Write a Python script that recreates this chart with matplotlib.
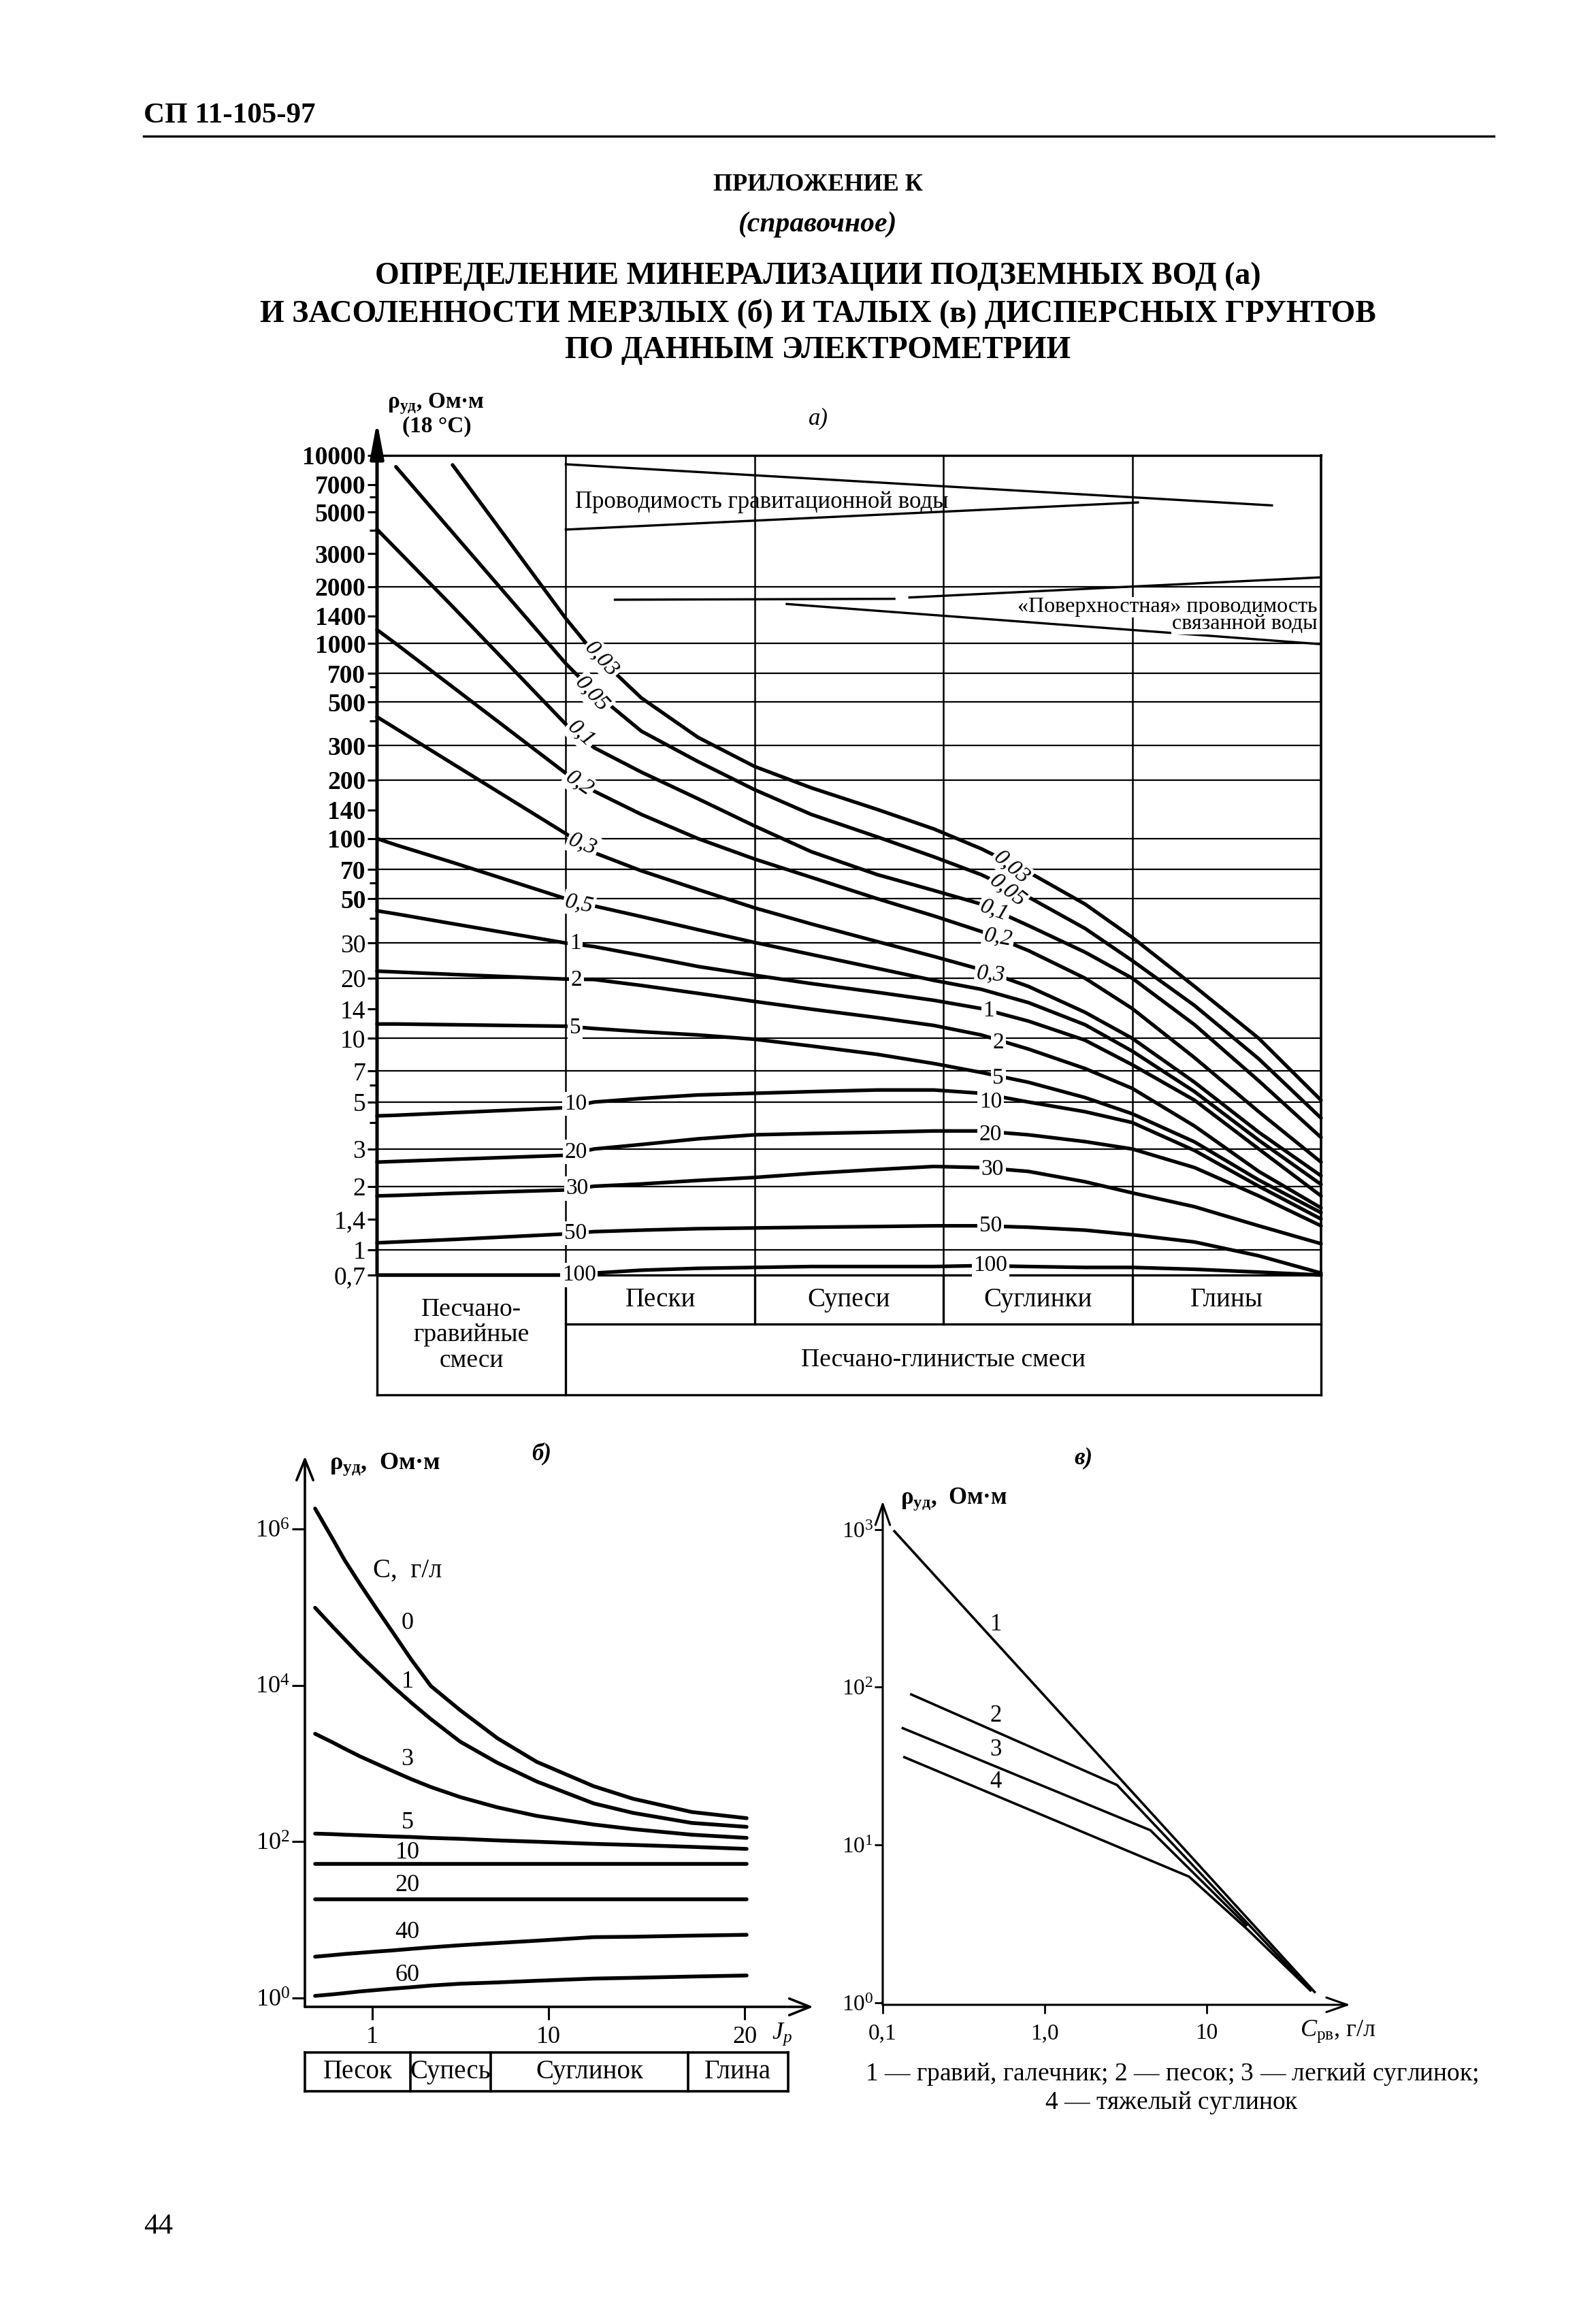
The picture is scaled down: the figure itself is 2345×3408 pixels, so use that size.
import numpy as np
import matplotlib.pyplot as plt
from matplotlib.lines import Line2D
from matplotlib.ticker import FixedLocator, NullFormatter, NullLocator

plt.rcParams['font.family'] = 'Liberation Serif'
plt.rcParams['mathtext.fontset'] = 'custom'
plt.rcParams['mathtext.rm'] = 'Liberation Serif'
plt.rcParams['mathtext.it'] = 'Liberation Serif:italic'
plt.rcParams['mathtext.bf'] = 'Liberation Serif:bold'
plt.rcParams['mathtext.default'] = 'regular'

nan = np.nan

# ---------- chart a) : resistivity vs soil type ----------
a_ticks = [10000, 7000, 5000, 3000, 2000, 1400, 1000, 700, 500, 300, 200, 140,
           100, 70, 50, 30, 20, 14, 10, 7, 5, 3, 2, 1.4, 1, 0.7]
a_ticklabels = ['10000', '7000', '5000', '3000', '2000', '1400', '1000', '700',
                '500', '300', '200', '140', '100', '70', '50', '30', '20', '14',
                '10', '7', '5', '3', '2', '1,4', '1', '0,7']
a_minor = [6000, 4000, 600, 400, 60, 40, 6, 4]
a_grid = [2000, 1000, 700, 500, 300, 200, 100, 70, 50, 30, 20, 10, 7, 5, 3, 2, 1]
soils_a = ['Пески', 'Супеси', 'Суглинки', 'Глины']
# the printed log axis is not uniform: relative height of each decade mark
a_dec_log = [-3, -0.155, 0, 1, 2, 3, 4, 7]
a_dec_h = [-381, 0, 17, 160, 295, 427, 554, 935]

# x in soil-column units (0-1 sand-gravel, 1..5 sand .. clay)
a_x = [0.0, 0.1, 0.4, 1.0, 1.15, 1.4, 1.7, 2.0, 2.3, 2.65, 2.95, 3.2, 3.45, 3.75,
       4.0, 4.33, 4.67, 5.0]
c_labels = ['0,03', '0,05', '0,1', '0,2', '0,3', '0,5', '1', '2', '5',
            '10', '20', '30', '50', '100']
rho_003 = [nan, nan, 8900, 1355, 890, 525, 330, 234, 182, 141, 112, 89, 68, 47,
           32, 18.2, 10, 5.1]
rho_005 = [nan, 8700, 3890, 787, 562, 355, 248, 178, 133, 102, 81, 66, 51, 35.5,
           24.5, 14.6, 8.0, 4.2]
rho_01 = [4040, 3190, 1570, 385, 292, 219, 160, 116, 86, 66, 55, 47, 36.7, 27,
          20, 11.7, 6.3, 3.4]
rho_02 = [1180, 995, 598, 216, 175, 133, 100, 79, 64, 50, 41, 34.3, 27.5, 20,
          14.1, 8.1, 4.5, 2.6]
rho_03 = [420, 366, 242, 106, 85, 69, 55.6, 45, 37.4, 30.5, 25.7, 22.1, 18.2, 13.5,
          10, 6.2, 3.6, 2.24]
rho_05 = [100, 93, 76, 50, 46, 40.7, 35, 30.2, 26.3, 22.4, 19.5, 17.6, 15.1, 11.7,
          8.7, 5.6, 3.3, 2.04]
rho_1 = [43.5, 42, 37.5, 30, 28.8, 26, 22.9, 20.7, 18.8, 17, 15.5, 14.1, 12.2, 9.8,
         7.5, 5.1, 3.0, 1.8]
rho_2 = [21.7, 21.5, 20.9, 19.8, 19.7, 18.4, 16.8, 15.3, 14, 12.7, 11.6, 10.4, 8.9,
         7.2, 5.8, 3.85, 2.35, 1.58]
rho_5 = [11.8, 11.8, 11.7, 11.5, 11.2, 10.8, 10.4, 9.9, 9.2, 8.4, 7.6, 6.9, 6.2,
         5.25, 4.4, 3.24, 2.14, 1.5]
rho_10 = [4.3, 4.33, 4.45, 4.7, 5.0, 5.2, 5.4, 5.5, 5.6, 5.7, 5.7, 5.5, 5.0, 4.5,
          4.0, 2.95, 2.0, 1.4]
rho_20 = [2.6, 2.62, 2.68, 2.8, 3.0, 3.15, 3.35, 3.5, 3.55, 3.6, 3.65, 3.65, 3.5,
          3.25, 3.0, 2.45, 1.8, 1.3]
rho_30 = [1.8, 1.81, 1.85, 1.92, 2.0, 2.05, 2.13, 2.2, 2.3, 2.4, 2.48, 2.45, 2.35,
          2.1, 1.86, 1.6, 1.3, 1.07]
rho_50 = [1.08, 1.09, 1.12, 1.19, 1.22, 1.24, 1.26, 1.27, 1.28, 1.29, 1.3, 1.3,
          1.28, 1.24, 1.18, 1.09, 0.92, 0.72]
rho_100 = [0.7, 0.7, 0.7, 0.7, 0.72, 0.75, 0.77, 0.78, 0.79, 0.79, 0.79, 0.8, 0.79,
           0.78, 0.78, 0.76, 0.73, 0.7]
a_curves = [rho_003, rho_005, rho_01, rho_02, rho_03, rho_05, rho_1, rho_2,
            rho_5, rho_10, rho_20, rho_30, rho_50, rho_100]

# label places on the curves (x, rho, rotation)
lab1 = [(1.19, 830, -48), (1.14, 550, -48), (1.08, 345, -42), (1.07, 192, -35),
        (1.09, 94, -22), (1.07, 47, -12), (1.05, 30, 0), (1.055, 19.5, 0),
        (1.05, 11.3, 0), (1.05, 4.9, 0), (1.055, 2.9, 0), (1.06, 1.95, 0),
        (1.05, 1.2, 0), (1.07, 0.7, 0)]
lab2 = [(3.36, 72, -40), (3.34, 55, -38), (3.27, 44, -20), (3.29, 32, -10),
        (3.25, 21, -5), None, (3.24, 13.7, 0), (3.29, 9.5, 0), (3.29, 6.5, 0),
        (3.25, 5.0, 0), (3.25, 3.5, 0), (3.26, 2.4, 0), (3.25, 1.3, 0),
        (3.25, 0.8, 0)]

# ---------- chart b) : frozen soils ----------
b_x = [-1.9, -1.0, -0.4, 0.4, 1.2, 2.0, 3.0, 4.0, 5.5, 7.4, 9.4, 12.3, 14.3, 17.3, 20.1]
b_c = ['0', '1', '3', '5', '10', '20', '40', '60']
b_0 = [1.82e6, 7.4e5, 4.0e5, 1.95e5, 9.8e4, 5.0e4, 2.14e4, 9.8e3, 4.8e3, 2.1e3,
       1.05e3, 513, 355, 240, 200]
b_1 = [9.8e4, 5.6e4, 3.9e4, 2.4e4, 1.55e4, 1.0e4, 6.0e3, 3.7e3, 1.9e3, 1.02e3,
       589, 309, 234, 174, 155]
b_3 = [2400, 1860, 1550, 1230, 1000, 813, 631, 501, 372, 275, 214, 166, 145, 123, 112]
b_5 = [127, 125, 123, 121, 119, 117, 115, 112, 109, 104, 100, 94, 91, 86, 81]
b_10 = [52.5] * 15
b_20 = [18.2] * 15
b_40 = [3.39, 3.55, 3.67, 3.80, 3.94, 4.07, 4.27, 4.47, 4.75, 5.08, 5.43, 6.03, 6.1,
        6.3, 6.46]
b_60 = [1.07, 1.12, 1.16, 1.22, 1.27, 1.32, 1.38, 1.45, 1.53, 1.59, 1.67, 1.78, 1.82,
        1.89, 1.95]
b_curves = [b_0, b_1, b_3, b_5, b_10, b_20, b_40, b_60]
b_label_rho = [6.2e4, 1.1e4, 1120, 174, 72, 27.5, 6.9, 1.95]
b_soils = ['Песок', 'Супесь', 'Суглинок', 'Глина']
b_soil_edges = [-2.42, 2.95, 7.06, 17.1, 22.2]

# ---------- chart c) : thawed soils ----------
v1_x, v1_y = [0.118, 46.5], [975, 1.17]
v2_x, v2_y = [0.15, 2.8, 44], [90, 24, 1.2]
v3_x, v3_y = [0.133, 4.5, 17.6], [55, 12.4, 3.1]
v4_x, v4_y = [0.136, 7.8, 18, 43.7], [36, 6.3, 2.9, 1.2]
v_label_rho = [250, 66, 40, 25]

fig = plt.figure(figsize=(23.45, 34.08), dpi=100)


def fx(x):
    return x / 2345


def fy(y):
    return 1 - y / 3408


def add_axes_px(left, top, right, bottom):
    return fig.add_axes([fx(left), fy(bottom), (right - left) / 2345, (bottom - top) / 3408])


def a_fwd(v):
    with np.errstate(divide='ignore', invalid='ignore'):
        return np.interp(np.log10(v), a_dec_log, a_dec_h)


def a_inv(u):
    return 10 ** np.interp(u, a_dec_h, a_dec_log)


# page header
fig.text(fx(211), fy(170), 'СП 11-105-97', fontsize=31, fontweight='bold', va='center')
fig.add_artist(Line2D([fx(211), fx(2195)], [fy(200), fy(200)], lw=2.4, color='k'))
fig.text(fx(1202), fy(272), 'ПРИЛОЖЕНИЕ К', fontsize=26, fontweight='bold', ha='center', va='center')
fig.text(fx(1202), fy(330), '(справочное)', fontsize=30, fontweight='bold', style='italic',
         ha='center', va='center')
titles = ['ОПРЕДЕЛЕНИЕ МИНЕРАЛИЗАЦИИ ПОДЗЕМНЫХ ВОД (а)',
          'И ЗАСОЛЕННОСТИ МЕРЗЛЫХ (б) И ТАЛЫХ (в) ДИСПЕРСНЫХ ГРУНТОВ',
          'ПО ДАННЫМ ЭЛЕКТРОМЕТРИИ']
for t, yy in zip(titles, [406, 461, 515]):
    fig.text(fx(1202), fy(yy), t, fontsize=33, fontweight='bold', ha='center', va='center')
fig.text(fx(211), fy(3271), '44', fontsize=31, va='center')

# ================= chart a =================
ax = add_axes_px(554, 669, 1941, 1873)
ax.set_yscale('function', functions=(a_fwd, a_inv))
ax.set_xlim(0, 5)
ax.set_ylim(0.7, 10000)
for sp in ax.spines.values():
    sp.set_visible(False)
ax.set_xticks([])
ax.set_yticks(a_ticks, labels=a_ticklabels)
ax.yaxis.set_minor_locator(FixedLocator(a_minor))
ax.yaxis.set_minor_formatter(NullFormatter())
ax.tick_params(axis='y', which='major', direction='out', length=10, width=2.2,
               labelsize=27, pad=2)
ax.tick_params(axis='y', which='minor', direction='out', length=8, width=2.2)
for lbl, v in zip(ax.get_yticklabels(), a_ticks):
    if v >= 50:
        lbl.set_fontweight('bold')

ax.annotate('', xy=(0, 1.0415), xytext=(0, 0), xycoords='axes fraction',
            arrowprops=dict(arrowstyle='-|>,head_length=1.6,head_width=0.3', color='k',
                            lw=3.6, mutation_scale=20, shrinkA=0, shrinkB=0))
for v in a_grid:
    ax.axhline(v, color='k', lw=1.6, zorder=1)
ax.axhline(10000, color='k', lw=2.4, clip_on=False)
ax.axhline(0.7, color='k', lw=2.4, clip_on=False)
ax.axvline(5, color='k', lw=2.6, clip_on=False)
for c in [1, 2, 3, 4]:
    ax.axvline(c, color='k', lw=1.8, zorder=2)

for rho in a_curves:
    ax.plot(a_x, rho, color='k', lw=3.8, solid_capstyle='round',
            solid_joinstyle='round', clip_on=False, zorder=3)

for s, p1, p2 in zip(c_labels, lab1, lab2):
    st = 'italic' if ',' in s else 'normal'
    for p in (p1, p2):
        if p is None:
            continue
        ax.text(p[0], p[1], s, rotation=p[2], ha='center', va='center', fontsize=24,
                style=st, zorder=4, rotation_mode='anchor',
                bbox=dict(boxstyle='square,pad=0.08', fc='white', ec='none'))

# conductivity wedges
ax.plot([1.0, 4.74], [8970, 5420], color='k', lw=2.4)
ax.plot([1.0, 4.03], [4030, 5620], color='k', lw=2.4)
ax.text(1.05, 5650, 'Проводимость гравитационной воды', fontsize=25, ha='left', va='center')
ax.plot([1.26, 2.74], [1706, 1725], color='k', lw=2.4)
ax.plot([2.17, 5.0], [1619, 990], color='k', lw=2.4)
ax.plot([2.82, 5.0], [1754, 2245], color='k', lw=2.4)
ax.text(4.98, 1560, '«Поверхностная» проводимость', fontsize=23, ha='right', va='center',
        zorder=4, bbox=dict(boxstyle='square,pad=0.02', fc='white', ec='none'))
ax.text(4.98, 1265, 'связанной воды', fontsize=23, ha='right', va='center', zorder=4,
        bbox=dict(boxstyle='square,pad=0.02', fc='white', ec='none'))

# table under chart a
T = ax.get_xaxis_transform()
r1, r2 = -0.0599, -0.1465
kw = dict(color='k', lw=2.4, transform=T, clip_on=False)
ax.plot([1, 5], [r1, r1], **kw)
ax.plot([0, 5], [r2, r2], **kw)
for c in [0, 1, 5]:
    ax.plot([c, c], [0, r2], **kw)
for c in [2, 3, 4]:
    ax.plot([c, c], [0, r1], **kw)
for i, s in enumerate(soils_a):
    ax.text(i + 1.5, r1 / 2, s, transform=T, ha='center', va='center', fontsize=28)
ax.text(3, (r1 + r2) / 2, 'Песчано-глинистые смеси', transform=T, ha='center',
        va='center', fontsize=27)
ax.text(0.5, r2 / 2, 'Песчано-\nгравийные\nсмеси', transform=T, ha='center',
        va='center', fontsize=27, linespacing=1.12)

fig.text(fx(569), fy(593), r'$ρ_{уд}$, Ом·м', fontsize=24, fontweight='bold', va='center')
fig.text(fx(591), fy(626), '(18 °С)', fontsize=24, fontweight='bold', va='center')
fig.text(fx(1202), fy(615), 'а)', fontsize=25, style='italic', ha='center', va='center')

# ================= chart b =================
axb = add_axes_px(448, 2139, 1195, 2948)
axb.set_yscale('log')
axb.set_xlim(-2.42, 23.5)
axb.set_ylim(10 ** -0.111, 10 ** 6.93)
for sp in axb.spines.values():
    sp.set_visible(False)
arr_b = dict(arrowstyle='->,head_length=1.0,head_width=0.4', color='k', lw=2.6,
             mutation_scale=22, shrinkA=0, shrinkB=0)
axb.annotate('', xy=(0, 1), xytext=(0, 0), xycoords='axes fraction', arrowprops=arr_b)
axb.annotate('', xy=(1, 0), xytext=(0, 0), xycoords='axes fraction', arrowprops=arr_b)
axb.set_yticks([1, 1e2, 1e4, 1e6], labels=['$10^0$', '$10^2$', '$10^4$', '$10^6$'])
axb.yaxis.set_minor_locator(NullLocator())
axb.set_xticks([1, 10, 20], labels=['1', '10', '20'])
axb.tick_params(axis='both', direction='out', length=14, width=2.2, labelsize=26)
axb.tick_params(axis='y', pad=2)
axb.tick_params(axis='x', pad=6)
for rho in b_curves:
    axb.plot(b_x, rho, color='k', lw=4, solid_capstyle='round', solid_joinstyle='round')
for s, r in zip(b_c, b_label_rho):
    axb.text(2.8, r, s, ha='center', va='center', fontsize=26)
axb.text(2.8, 2.9e5, 'С,  г/л', ha='center', va='center', fontsize=28)

Tb = axb.get_xaxis_transform()
t1, t2 = -0.0826, -0.1537
kwb = dict(color='k', lw=2.6, transform=Tb, clip_on=False)
axb.plot([b_soil_edges[0], b_soil_edges[-1]], [t1, t1], **kwb)
axb.plot([b_soil_edges[0], b_soil_edges[-1]], [t2, t2], **kwb)
for e in b_soil_edges:
    axb.plot([e, e], [t1, t2], **kwb)
for i, s in enumerate(b_soils):
    axb.text((b_soil_edges[i] + b_soil_edges[i + 1]) / 2, (t1 + t2) / 2, s,
             transform=Tb, ha='center', va='center', fontsize=28)
fig.text(fx(484), fy(2151), r'$ρ_{уд}$,  Ом·м', fontsize=26, fontweight='bold', va='center')
fig.text(fx(796), fy(2135), 'б)', fontsize=25, style='italic', fontweight='bold',
         ha='center', va='center')
fig.text(fx(1134), fy(2988), r'$\mathit{J}_{\mathit{p}}$', fontsize=26, va='center')

# ================= chart c =================
axc = add_axes_px(1297, 2205, 1984, 2945)
axc.set_xscale('log')
axc.set_yscale('log')
axc.set_xlim(0.1, 77.3)
axc.set_ylim(0.97, 1514)
for sp in axc.spines.values():
    sp.set_visible(False)
arr_c = dict(arrowstyle='->,head_length=1.0,head_width=0.35', color='k', lw=2.2,
             mutation_scale=22, shrinkA=0, shrinkB=0)
axc.annotate('', xy=(0, 1), xytext=(0, 0), xycoords='axes fraction', arrowprops=arr_c)
axc.annotate('', xy=(1, 0), xytext=(0, 0), xycoords='axes fraction', arrowprops=arr_c)
axc.set_yticks([1, 10, 100, 1000], labels=['$10^0$', '$10^1$', '$10^2$', '$10^3$'])
axc.set_xticks([0.1, 1, 10], labels=['0,1', '1,0', '10'])
axc.xaxis.set_minor_locator(NullLocator())
axc.yaxis.set_minor_locator(NullLocator())
axc.tick_params(axis='both', direction='out', length=9, width=2, labelsize=24)
axc.tick_params(axis='y', pad=1)
axc.tick_params(axis='x', pad=10)
for xs, ys in [(v1_x, v1_y), (v2_x, v2_y), (v3_x, v3_y), (v4_x, v4_y)]:
    axc.plot(xs, ys, color='k', lw=2.6)
for i, r in enumerate(v_label_rho):
    axc.text(0.5, r, str(i + 1), ha='center', va='center', fontsize=25)
fig.text(fx(1323), fy(2202), r'$ρ_{уд}$,  Ом·м', fontsize=25, fontweight='bold', va='center')
fig.text(fx(1592), fy(2142), 'в)', fontsize=25, style='italic', fontweight='bold',
         ha='center', va='center')
fig.text(fx(1910), fy(2984), r'$\mathit{C}_{рв}$, г/л', fontsize=26, va='center')
fig.text(fx(1722), fy(3047),
         r'$\mathit{1}$ — гравий, галечник; $\mathit{2}$ — песок; $\mathit{3}$ — легкий суглинок;',
         fontsize=27, ha='center', va='center')
fig.text(fx(1722), fy(3089), r'$\mathit{4}$ — тяжелый суглинок', fontsize=27,
         ha='center', va='center')

fig.savefig('out.png', dpi=100)
